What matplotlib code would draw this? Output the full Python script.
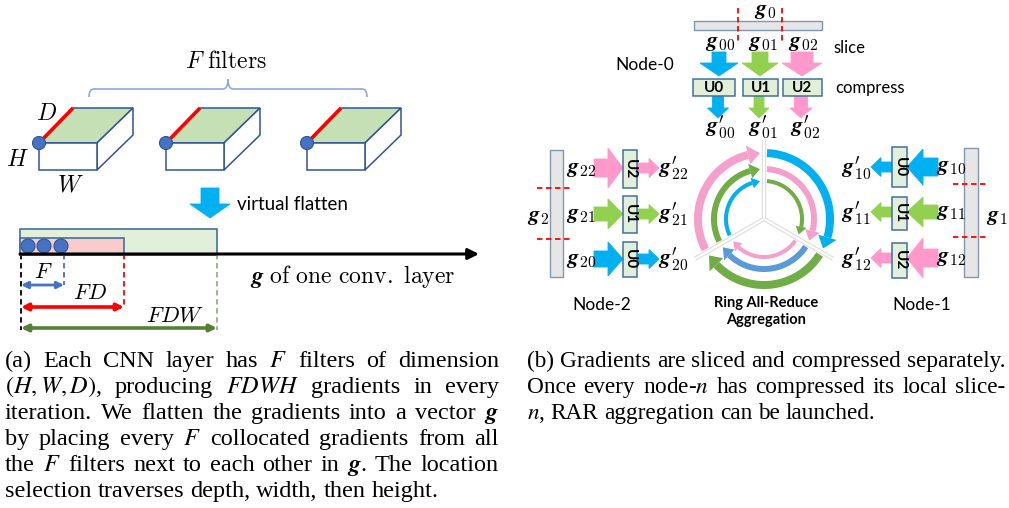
import matplotlib
matplotlib.use("Agg")
import matplotlib.pyplot as plt
import numpy as np
from matplotlib.patches import Polygon, Rectangle, Circle, FancyArrowPatch, PathPatch
from matplotlib.path import Path

# ---------------- data (labels / text) ----------------
filter_dims = ["D", "H", "W"]
node_names = ["Node-0", "Node-1", "Node-2"]
unit_names = ["U0", "U1", "U2"]
slice_ids = ["0", "1", "2"]
ring_title = ["Ring All-Reduce", "Aggregation"]
caption_a = [
    "(a) Each CNN layer has $F$ filters of dimension",
    "$(H,W,D)$, producing $FDWH$ gradients in every",
    r"iteration. We flatten the gradients into a vector $\boldsymbol{g}$",
    "by placing every $F$ collocated gradients from all",
    r"the $F$ filters next to each other in $\boldsymbol{g}$. The location",
    "selection traverses depth, width, then height.",
]
caption_b = [
    "(b) Gradients are sliced and compressed separately.",
    "Once every node-$n$ has compressed its local slice-",
    "$n$, RAR aggregation can be launched.",
]

# ---------------- figure ----------------
W, H = 1009, 508
fig = plt.figure(figsize=(W / 100, H / 100), dpi=100)
ax = fig.add_axes([0, 0, 1, 1])
ax.set_xlim(0, W)
ax.set_ylim(H, 0)
ax.axis("off")

BLUE = "#00B0F0"; GREEN = "#92D050"; PINK = "#FF99CC"
RPINK = "#F59FCB"; RGREEN = "#70AD47"; STEEL = "#5B9BD5"
EDGE = "#2F5597"; BOXFILL = "#E2EFDA"; BOXEDGE = "#41719C"; BARFILL = "#E7E6E6"
DOT = "#4472C4"
SANS = "Lato"
GFS = 16


def mtext(x, y, s, size=15, ha="center", va="center", **kw):
    return ax.text(x, y, s, fontsize=size, ha=ha, va=va, math_fontfamily="cm",
                   family="DejaVu Serif", zorder=6, **kw)


def stext(x, y, s, size=12, ha="center", va="center", weight="normal", rot=0):
    return ax.text(x, y, s, fontsize=size, ha=ha, va=va, family=SANS,
                   fontweight=weight, rotation=rot, zorder=6)


def block_arrow(p0, p1, sw, hw, hl, color, z=3):
    p0 = np.array(p0, float); p1 = np.array(p1, float)
    d = p1 - p0; L = np.hypot(*d); u = d / L; n = np.array([-u[1], u[0]])
    b = p1 - hl * u
    pts = [p0 + sw * n, b + sw * n, b + hw * n, p1, b - hw * n, b - sw * n, p0 - sw * n]
    ax.add_patch(Polygon(pts, closed=True, fc=color, ec=color, lw=0.6, zorder=z))


def gl(sub, prime=False):
    if prime:
        return r"$\boldsymbol{g}^{\prime}_{%s}$" % sub
    return r"$\boldsymbol{g}_{%s}$" % sub


# ================= panel (a) =================
verts = [(89, 97), (89, 89), (94, 89), (223, 89), (228, 89), (228, 79),
         (228, 89), (233, 89), (362, 89), (367, 89), (367, 97)]
codes = [Path.MOVETO, Path.CURVE3, Path.CURVE3, Path.LINETO, Path.CURVE3, Path.CURVE3,
         Path.CURVE3, Path.CURVE3, Path.LINETO, Path.CURVE3, Path.CURVE3]
ax.add_patch(PathPatch(Path(verts, codes), fc="none", ec="#8EA9DB", lw=1.2))
mtext(226, 61, r"$F\ \mathrm{filters}$", size=17)

for x0 in (39, 166, 307):
    top = [(x0, 143), (x0 + 34, 108), (x0 + 94, 108), (x0 + 58, 143)]
    ax.add_patch(Polygon(top, fc="#C5E0B4", ec=EDGE, lw=1.1, zorder=2))
    side = [(x0 + 58, 143), (x0 + 94, 108), (x0 + 94, 135), (x0 + 58, 170)]
    ax.add_patch(Polygon(side, fc="white", ec=EDGE, lw=1.1, zorder=2))
    ax.add_patch(Rectangle((x0, 143), 58, 27, fc="white", ec=EDGE, lw=1.1, zorder=2))
    ax.plot([x0, x0 + 34], [143, 108], color="red", lw=2.6, zorder=3, solid_capstyle="butt")
    ax.add_patch(Circle((x0, 143), 6.5, fc=DOT, ec=EDGE, lw=0.8, zorder=4))

mtext(46, 114, r"$%s$" % filter_dims[0], size=17)
mtext(17, 160, r"$%s$" % filter_dims[1], size=17)
mtext(70, 185, r"$%s$" % filter_dims[2], size=17)

block_arrow((210, 188), (210, 218), 9, 20, 14, BLUE)
stext(237, 205, "virtual flatten", size=13.5, ha="left")

ax.add_patch(Rectangle((20, 229), 197, 26, fc="#E2EFDA", ec=BOXEDGE, lw=1.2, zorder=2))
ax.add_patch(Rectangle((20, 238), 104, 17, fc="#F8CBCC", ec=BOXEDGE, lw=1.2, zorder=3))
for xd in (28, 44, 61):
    ax.add_patch(Circle((xd, 246), 7, fc=DOT, ec=EDGE, lw=0.8, zorder=4))
ax.add_patch(FancyArrowPatch((20, 254), (479, 254), arrowstyle="-|>", mutation_scale=16,
                             color="black", lw=2.2, zorder=5, shrinkA=0, shrinkB=0))
mtext(250, 277, r"$\boldsymbol{g}\ \mathrm{of\ one\ conv.\ layer}$", size=17, ha="left")

ax.plot([21, 21], [254, 330], ls=(0, (3, 2)), color="black", lw=1.3)
ax.plot([64, 64], [254, 285], ls=(0, (3, 2)), color=DOT, lw=1.3)
ax.plot([124, 124], [254, 307], ls=(0, (3, 2)), color="red", lw=1.3)
ax.plot([217, 217], [254, 330], ls=(0, (3, 2)), color="#9AAE86", lw=1.3)
for y, x1, c, lw in ((285, 64, DOT, 2.0), (307, 124, "red", 2.6), (328, 217, "#548235", 2.6)):
    ax.add_patch(FancyArrowPatch((21, y), (x1, y), arrowstyle="<|-|>", mutation_scale=10,
                                 color=c, lw=lw, shrinkA=0, shrinkB=0, zorder=4))
mtext(43, 272, r"$F$", size=16)
mtext(90, 293, r"$FD$", size=16)
mtext(175, 316, r"$FDW$", size=16)

# ================= panel (b) =================
# Node-0 (top)
ax.add_patch(Rectangle((694, 21), 128, 9, fc=BARFILL, ec="#8497B0", lw=1.0))
for xd in (738, 782):
    ax.plot([xd, xd], [8, 44], ls=(0, (3, 2)), color="red", lw=1.3)
mtext(765, 10, gl("0"), size=GFS)
colors0 = [BLUE, GREEN, PINK]
cx0 = [719, 760, 802]
big = [(7, 19), (8, 18), (11, 20)]
small = [(5.5, 10.5), (5, 10), (6.5, 11)]
ubox0 = [(693, 42), (743, 35), (783, 39)]
for i in range(3):
    mtext([720, 763, 803][i], 42, gl("0" + slice_ids[i]), size=GFS)
    block_arrow((cx0[i], 52), (cx0[i], 76), big[i][0], big[i][1], 13, colors0[i])
    ax.add_patch(Rectangle((ubox0[i][0], 79), ubox0[i][1], 17, fc=BOXFILL, ec=BOXEDGE, lw=1.1, zorder=4))
    stext(ubox0[i][0] + ubox0[i][1] / 2, 88, unit_names[i], size=11, weight="bold")
    block_arrow((cx0[i] - 1, 96), (cx0[i] - 1, 118), small[i][0], small[i][1], 10, colors0[i])
    mtext([720, 763, 805][i], 127, gl("0" + slice_ids[i], True), size=GFS)
stext(833, 48, "slice", size=12, ha="left")
stext(835, 88, "compress", size=12, ha="left")
stext(645, 65, node_names[0], size=12.5)

# Node-2 (left)
ax.add_patch(Rectangle((550, 150), 13, 127, fc=BARFILL, ec="#8497B0", lw=1.0))
for yd in (188, 239):
    ax.plot([537, 570], [yd, yd], ls=(0, (3, 2)), color="red", lw=1.3)
mtext(538, 216, gl("2"), size=GFS)
n2_order = [2, 1, 0]
n2_y = [168, 214, 259]
n2_box = [(150, 38), (196, 37), (242, 35)]
n2_big = [(9, 20), (7, 15), (8, 17)]
for k, s in enumerate(n2_order):
    c = colors0[s]
    yc = n2_y[k]
    mtext(581, yc, gl("2" + slice_ids[s]), size=GFS)
    block_arrow((594, yc), (623, yc), n2_big[k][0], n2_big[k][1], 15, c)
    ax.add_patch(Rectangle((623, n2_box[k][0]), 14, n2_box[k][1], fc=BOXFILL, ec=BOXEDGE, lw=1.1, zorder=4))
    stext(630, n2_box[k][0] + n2_box[k][1] / 2, unit_names[s], size=11, weight="bold", rot=-90)
    block_arrow((637, yc), (659, yc), 5, 9.5, 10, c)
    mtext(673, yc, gl("2" + slice_ids[s], True), size=GFS)
stext(602, 305, node_names[2], size=12.5)

# Node-1 (right)
ax.add_patch(Rectangle((964, 148), 14, 129, fc=BARFILL, ec="#8497B0", lw=1.0))
for yd in (184, 237):
    ax.plot([953, 987], [yd, yd], ls=(0, (3, 2)), color="red", lw=1.3)
mtext(997, 216, gl("1"), size=GFS)
n1_y = [167, 212, 258]
n1_box = [(147, 40), (197, 33), (243, 35)]
n1_big = [(9, 18), (7, 15), (9, 20)]
for s in range(3):
    c = colors0[s]
    yc = n1_y[s]
    mtext(951, yc - 1, gl("1" + slice_ids[s]), size=GFS)
    block_arrow((938, yc), (907, yc), n1_big[s][0], n1_big[s][1], 16, c)
    ax.add_patch(Rectangle((892, n1_box[s][0]), 15, n1_box[s][1], fc=BOXFILL, ec=BOXEDGE, lw=1.1, zorder=4))
    stext(899.5, n1_box[s][0] + n1_box[s][1] / 2, unit_names[s], size=11, weight="bold", rot=-90)
    block_arrow((892, yc), (871, yc), 5, 9.5, 10, c)
    mtext(856, yc + 1, gl("1" + slice_ids[s], True), size=GFS)
stext(922, 305, node_names[1], size=12.5)

# Ring all-reduce
cx, cy = 764, 219


def pt(r, a):
    return (cx + r * np.cos(np.radians(a)), cy - r * np.sin(np.radians(a)))


for a in (90, 210, 330):
    ax.plot([cx, pt(80, a)[0]], [cy, pt(80, a)[1]], color="#DDDDDD", lw=3.2, zorder=1,
            solid_capstyle="butt")
    ax.plot([cx, pt(80, a)[0]], [cy, pt(80, a)[1]], color="white", lw=1.6, zorder=1,
            solid_capstyle="butt")


def ring_arrow(r, w, a0, a1, color, hw, hl):
    abase = a1 + np.degrees(hl / r)
    angs = np.linspace(a0, abase, 80)
    outer = [pt(r + w / 2, a) for a in angs]
    inner = [pt(r - w / 2, a) for a in angs[::-1]]
    ax.add_patch(Polygon(outer + inner, fc=color, ec="none", zorder=2))
    ax.add_patch(Polygon([pt(r + hw, abase), pt(r, a1), pt(r - hw, abase)], fc=color,
                         ec="none", zorder=2))


rings = [
    (66, 8, 9.5, 12, [RPINK, BLUE, RGREEN]),
    (50, 6, 7.5, 10, [RGREEN, RPINK, STEEL]),
    (38, 4, 5.5, 8, [BLUE, RGREEN, RPINK]),
]
starts = [210, 90, -30]
for r, w, hw, hl, cols in rings:
    gs = np.degrees(3.0 / r)
    ge = np.degrees(4.0 / r)
    for s0, col in zip(starts, cols):
        ring_arrow(r, w, s0 - gs, s0 - 120 + ge, col, hw, hl)

stext(766, 303, ring_title[0], size=10.5, weight="bold")
stext(766, 320, ring_title[1], size=10.5, weight="bold")

# ================= captions =================
fig.canvas.draw()
renderer = fig.canvas.get_renderer()


def measure(lines, fs):
    out = []
    for line in lines:
        ts = [ax.text(0, 0, w, fontsize=fs, family="Liberation Serif",
                      math_fontfamily="stix") for w in line.split(" ")]
        wd = sum(t.get_window_extent(renderer).width for t in ts)
        out.append(wd + (len(ts) - 1) * 0.25 * fs * 100 / 72)
        for t in ts:
            t.remove()
    return out


def caption(lines, x0, x1, y0, dy, fs):
    for li, line in enumerate(lines):
        words = line.split(" ")
        y = y0 + li * dy
        ts = [ax.text(0, y, w, fontsize=fs, family="Liberation Serif",
                      math_fontfamily="stix", ha="left", va="baseline") for w in words]
        widths = [t.get_window_extent(renderer).width for t in ts]
        natural = 0.25 * fs * 100 / 72
        if li == len(lines) - 1:
            gap = natural
        else:
            gap = max((x1 - x0 - sum(widths)) / (len(words) - 1), 0.1 * fs * 100 / 72)
        x = x0
        for t, wd in zip(ts, widths):
            t.set_x(x)
            x += wd + gap


ref = 10.0
fa = ref * (499 - 5) / max(measure(caption_a[:-1], ref))
fb = ref * (1005 - 527) / max(measure(caption_b[:-1], ref))
fs_a = min(fa, 0.5 * (fa + fb))
fs_b = fb
caption(caption_a, 5, 499, 367, 26, fs_a)
caption(caption_b, 527, 1005, 367, 26, fs_b)

fig.savefig("out.png", dpi=100, facecolor="white")
